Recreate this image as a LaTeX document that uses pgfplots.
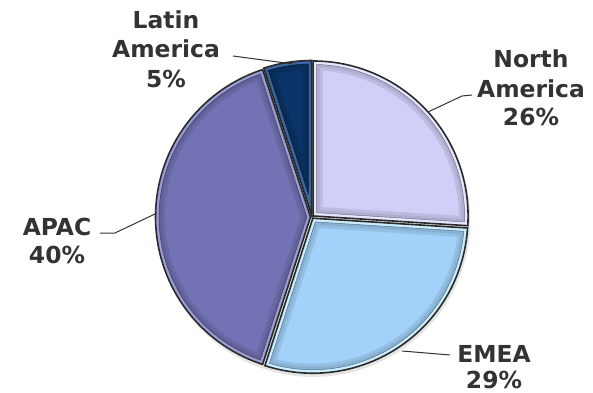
\documentclass[border=0pt]{standalone}
\usepackage{pgfplots}
\pgfplotsset{compat=1.18}
\usepackage{fontspec}
\setmainfont{DejaVu Sans}
\definecolor{txt}{HTML}{333333}
\definecolor{edge}{HTML}{2A2A2A}
\definecolor{naM}{HTML}{CFCFF7}
\definecolor{naR}{HTML}{E6E6FF}
\definecolor{emM}{HTML}{A2D2FA}
\definecolor{emR}{HTML}{CBEEFF}
\definecolor{apM}{HTML}{7272B4}
\definecolor{apR}{HTML}{9C9CD6}
\definecolor{laM}{HTML}{0B3468}
\definecolor{laR}{HTML}{3A68A6}

% shares (percent)
\def\pNA{26}\def\pEMEA{29}\def\pAPAC{40}\def\pLA{5}
% pie geometry (1 unit = 1 bp)
\def\pcx{312}\def\pcy{176}\def\pR{155}\def\expl{1.5}
\pgfmathsetmacro\aA{90}%
\pgfmathsetmacro\aB{\aA-3.6*\pNA}%
\pgfmathsetmacro\aC{\aB-3.6*\pEMEA}%
\pgfmathsetmacro\aD{\aC-3.6*\pAPAC}%
\pgfmathsetmacro\aE{\aD-3.6*\pLA}%

% #1 start angle, #2 end angle, #3 inset, #4 style
\newcommand\pieslice[4]{%
  \pgfmathsetmacro\mm{(#1+#2)/2}%
  \pgfmathsetmacro\hh{(#2-#1)/2}%
  \pgfmathsetmacro\cxx{\pcx+\expl*cos(\mm)}%
  \pgfmathsetmacro\cyy{\pcy+\expl*sin(\mm)}%
  \pgfmathsetmacro\rr{\pR-#3}%
  \pgfmathsetmacro\dd{asin(#3/\rr)}%
  \pgfmathsetmacro\ax{\cxx+#3/sin(\hh)*cos(\mm)}%
  \pgfmathsetmacro\ay{\cyy+#3/sin(\hh)*sin(\mm)}%
  \pgfmathsetmacro\ta{#1+\dd}%
  \pgfmathsetmacro\tb{#2-\dd}%
  \edef\doit{\noexpand\addplot[#4, domain=\ta:\tb, samples=70]
    ({\cxx+\rr*cos(x)},{\cyy+\rr*sin(x)}) -- (axis cs:\ax,\ay) -- cycle;}%
  \doit
}
\newcommand\layered[4]{% start, end, main colour, rim colour
  \pieslice{#1}{#2}{0}{fill=#4, draw=edge, line width=1.6bp}%
  \pieslice{#1}{#2}{3.5}{fill=#3!84!black, draw=#3!55!black, line width=0.5bp}%
  \pieslice{#1}{#2}{6.5}{fill=#3!91!black, draw=none}%
  \pieslice{#1}{#2}{9.5}{fill=#3, draw=none}%
}

\begin{document}%
\begin{tikzpicture}
\begin{axis}[
  width=593bp, height=393bp, scale only axis,
  xmin=0, xmax=593, ymin=0, ymax=393,
  hide axis, clip=false,
]
% soft shadow
\addplot[fill=black, fill opacity=0.10, draw=none, domain=0:360, samples=90]
  ({\pcx+1.5+(\pR+2)*cos(x)},{\pcy-3+(\pR+2)*sin(x)});
\layered{\aB}{\aA}{naM}{naR}
\layered{\aC}{\aB}{emM}{emR}
\layered{\aD}{\aC}{apM}{apR}
\layered{\aE}{\aD}{laM}{laR}

% leader lines
\draw[txt, line width=1bp] (axis cs:233,337) -- (axis cs:293,329);
\draw[txt, line width=1bp] (axis cs:472,298) -- (axis cs:462,297) -- (axis cs:428,281);
\draw[txt, line width=1bp] (axis cs:450,38) -- (axis cs:402,42);
\draw[txt, line width=1bp] (axis cs:100,160) -- (axis cs:115,160) -- (axis cs:157,180);

% labels
\begin{scope}[every node/.style={anchor=base, inner sep=0pt, text=txt,
    font=\fontsize{23.5}{29}\selectfont\bfseries}]
\node at (axis cs:166,365) {Latin};
\node at (axis cs:166,336) {America};
\node at (axis cs:166,306) {\pLA\%};
\node at (axis cs:531,326) {North};
\node at (axis cs:531,296) {America};
\node at (axis cs:531,268) {\pNA\%};
\node at (axis cs:494,31) {EMEA};
\node at (axis cs:494,5) {\pEMEA\%};
\node at (axis cs:57,158) {APAC};
\node at (axis cs:57,130) {\pAPAC\%};
\end{scope}
\end{axis}
\pgfresetboundingbox
\path (current axis.south west) rectangle (current axis.north east);
\end{tikzpicture}%
\end{document}
